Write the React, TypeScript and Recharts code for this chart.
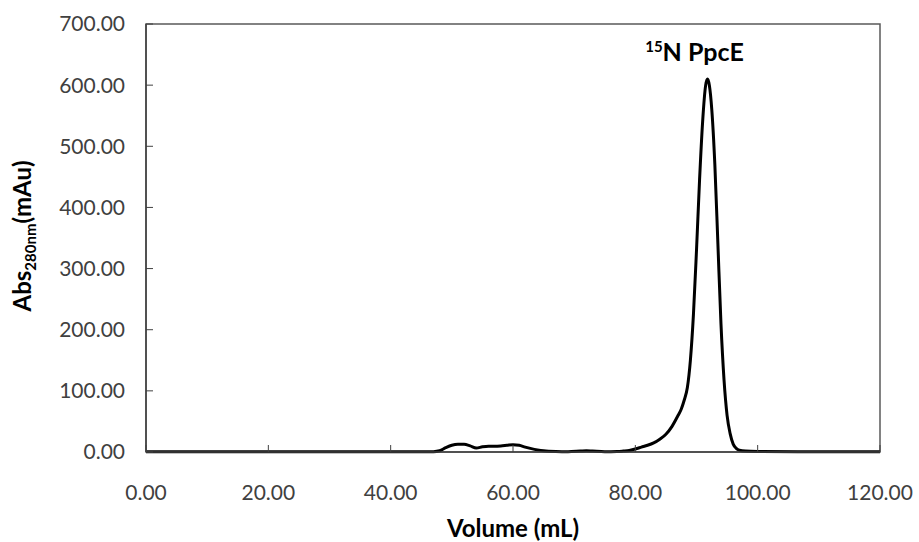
import React from 'react';
import { LineChart, Line, XAxis, YAxis, ReferenceArea, ReferenceDot } from 'recharts';

const volumes = [0, 10, 20, 30, 40, 45, 47, 48, 49, 50, 51, 52, 53, 54, 55, 56, 57, 58, 59, 60, 61, 62, 63, 64, 65, 67, 69, 71, 72, 73, 75, 77, 78, 79, 80, 81, 82, 83, 84, 85, 86, 87, 87.5, 88, 88.5, 89, 89.5, 90, 90.5, 91, 91.5, 91.8, 92.1, 92.5, 93, 93.5, 94, 94.5, 95, 95.5, 96, 96.5, 97, 98, 100, 110, 120];
const absorbance = [0.5, 0.5, 0.5, 0.5, 0.5, 0.5, 0.6, 2, 7, 11, 12.5, 12.5, 10, 6.5, 8.5, 9.5, 9.5, 10, 11, 12, 11, 8, 5.5, 3.5, 2, 0.8, 0.5, 1.5, 2, 1.5, 0.5, 0.8, 1.5, 2.5, 5, 8, 11, 15, 21, 29, 42, 60, 70, 85, 105, 150, 225, 330, 445, 540, 600, 610, 600, 560, 470, 340, 210, 118, 60, 30, 13, 6, 3, 1.5, 1, 0.5, 0.5];
const xTicks = [0, 20, 40, 60, 80, 100, 120];
const yTicks = [0, 100, 200, 300, 400, 500, 600, 700];
const peakLabel = { sup: '15', main: 'N PpcE', volume: 91.8, value: 610 };

const data = volumes.map((v, i) => ({ v, a: absorbance[i] }));

const FONT = 'Lato, "Open Sans", sans-serif';
const tickStyle = { fontFamily: FONT, fontSize: 21, fill: '#404040' };

export default function App() {
  return (
    <div style={{ position: 'absolute', left: 0, top: 0, background: '#fff' }}>
      <LineChart width={919} height={542} data={data} margin={{ top: 24, right: 39, bottom: 0, left: 0 }}>
        <XAxis
          dataKey="v"
          type="number"
          domain={[0, 120]}
          ticks={xTicks}
          tickFormatter={(t: number) => t.toFixed(2)}
          tick={tickStyle}
          tickSize={-7}
          tickMargin={40}
          height={90}
          stroke="#404040"
          axisLine={{ stroke: '#404040', strokeWidth: 1.5 }}
          tickLine={{ stroke: '#404040', strokeWidth: 1 }}
          label={{
            content: () => (
              <text x={513} y={537} textAnchor="middle" fontFamily={FONT} fontWeight="bold" fontSize={24} fill="#000">
                Volume (mL)
              </text>
            ),
          }}
        />
        <YAxis
          type="number"
          domain={[0, 700]}
          ticks={yTicks}
          tickFormatter={(t: number) => t.toFixed(2)}
          tick={tickStyle}
          tickSize={-7}
          tickMargin={28}
          width={146}
          stroke="#404040"
          axisLine={{ stroke: '#404040', strokeWidth: 1.5 }}
          tickLine={{ stroke: '#404040', strokeWidth: 1 }}
          label={{
            content: () => (
              <text
                x={31}
                y={236}
                transform="rotate(-90, 31, 236)"
                textAnchor="middle"
                fontFamily={FONT}
                fontWeight="bold"
                fontSize={24}
                fill="#000"
              >
                Abs
                <tspan fontSize={15} dy={5}>280nm</tspan>
                <tspan dy={-5}>(mAu)</tspan>
              </text>
            ),
          }}
        />
        <ReferenceArea x1={0} x2={120} y1={0} y2={700} fill="none" stroke="#595959" strokeWidth={1.5} />
        <Line
          dataKey="a"
          type="monotone"
          stroke="#000"
          strokeWidth={3}
          dot={false}
          isAnimationActive={false}
        />
        <ReferenceDot
          x={peakLabel.volume}
          y={peakLabel.value}
          r={0}
          fill="none"
          stroke="none"
          label={{
            content: (props: any) => {
              const vb = props.viewBox || {};
              const cx = (vb.x ?? 0) + (vb.width ?? 0) / 2 - 13;
              const cy = (vb.y ?? 0) + (vb.height ?? 0) / 2 - 18;
              return (
                <text x={cx} y={cy} textAnchor="middle" fontFamily={FONT} fontWeight="bold" fontSize={25} fill="#000">
                  <tspan fontSize={15} dy={-9}>{peakLabel.sup}</tspan>
                  <tspan dy={9}>{peakLabel.main}</tspan>
                </text>
              );
            },
          }}
        />
      </LineChart>
    </div>
  );
}
